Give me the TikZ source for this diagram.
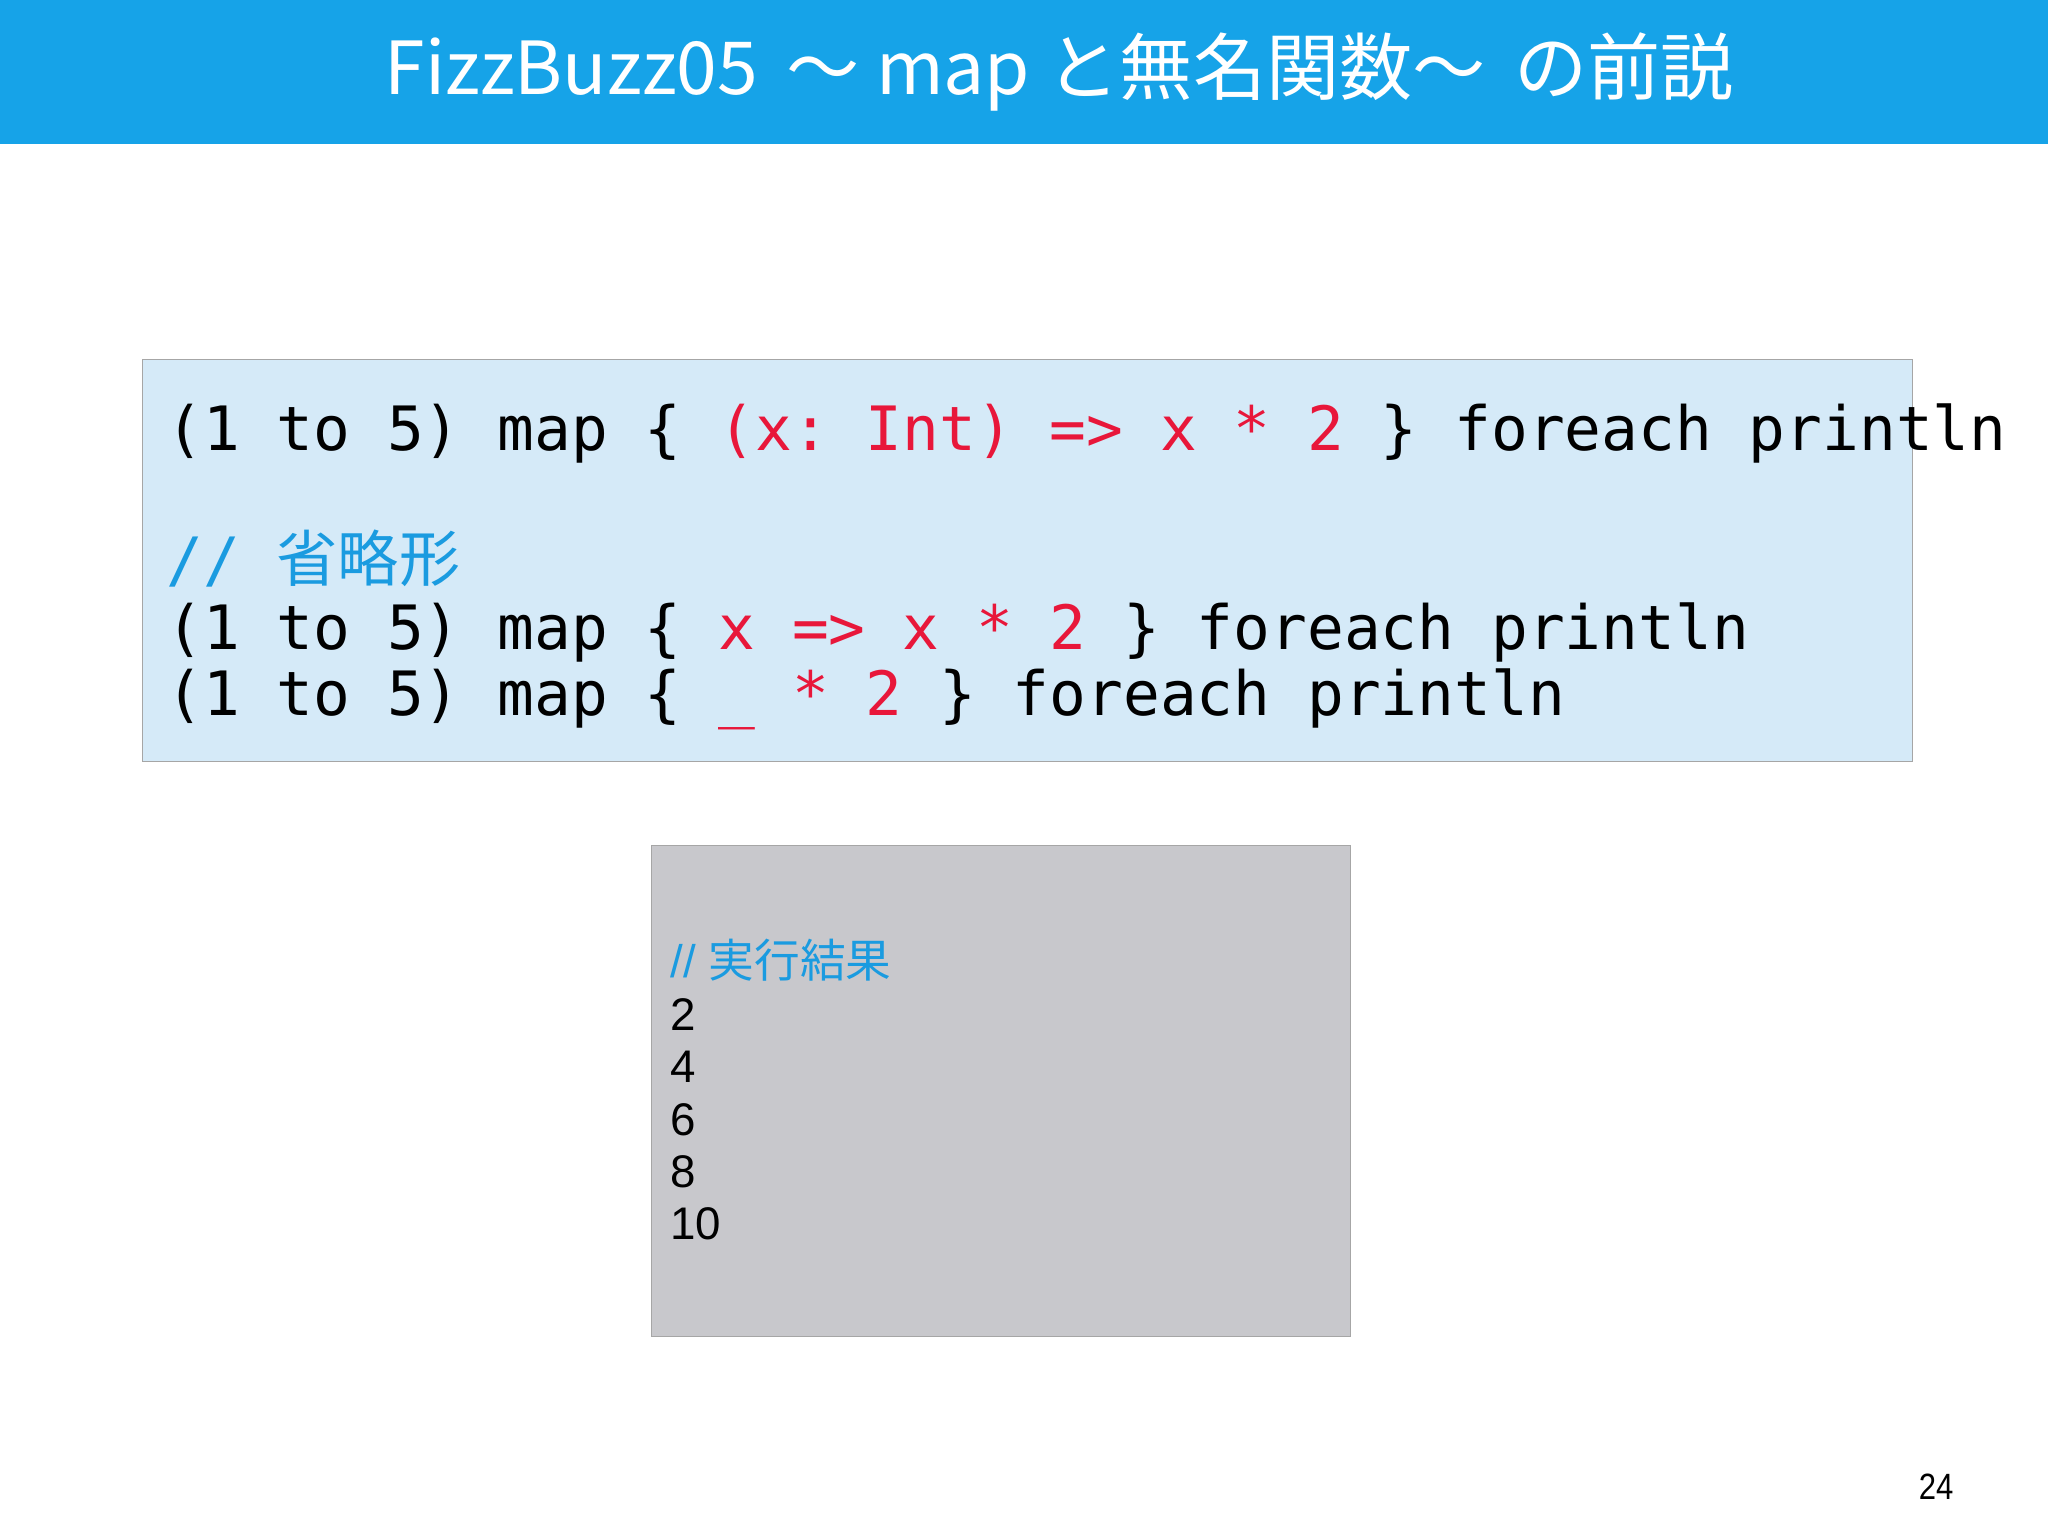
\documentclass[tikz,border=0pt]{standalone}
\usepackage{fontspec}
\setmainfont{Liberation Sans}
\setmonofont{DejaVu Sans Mono}
\newfontfamily\cjk{Noto Sans CJK JP}
\definecolor{barblue}{HTML}{16A3E8}
\definecolor{codebg}{HTML}{D5EAF8}
\definecolor{outbg}{HTML}{C8C8CC}
\definecolor{kred}{HTML}{E8173A}
\definecolor{cblue}{HTML}{1A9BE0}
\newcommand{\rd}[1]{\textcolor{kred}{#1}}
\begin{document}
\begin{tikzpicture}[x=0.5pt,y=-0.5pt,
  codeline/.style={anchor=base west,inner sep=0pt,font=\ttfamily\fontsize{23.4}{28}\selectfont},
  outline/.style={anchor=base west,inner sep=0pt,font=\fontsize{17.5}{20}\selectfont}]
\useasboundingbox (0,0) rectangle (1568,1175);
\fill[barblue] (0,0) rectangle (1568,110);
\node[inner sep=0pt,text=white,font=\cjk\fontsize{28}{32}\selectfont] (title) at (811,55) {FizzBuzz05 \,〜 map と無名関数〜 \,の前説};
\draw[draw=gray!70,fill=codebg] (109,275) rectangle (1464,583);
\node[codeline] (l1) at (127,345) {(1 to 5) map \{ \rd{(x: Int) => x * 2} \} foreach println};
\node[codeline,text=cblue] (l2) at (127,445) {// {\cjk 省略形}};
\node[codeline] (l3) at (127,497) {(1 to 5) map \{ \rd{x => x * 2} \} foreach println};
\node[codeline] (l4) at (127,548) {(1 to 5) map \{ \rd{\_ * 2} \} foreach println};
\draw[draw=gray!70,fill=outbg] (499,647) rectangle (1034,1023);
\node[outline,text=cblue] (o0) at (513,748) {// {\cjk 実行結果}};
\node[outline] (o1) at (513,789) {2};
\node[outline] (o2) at (513,829) {4};
\node[outline] (o3) at (513,869) {6};
\node[outline] (o4) at (513,909) {8};
\node[outline] (o5) at (513,949) {10};
\node[anchor=base east,inner sep=0pt,font=\fontsize{14}{16}\selectfont,xscale=0.85] (pg) at (1496,1148) {24};
\end{tikzpicture}
\end{document}
